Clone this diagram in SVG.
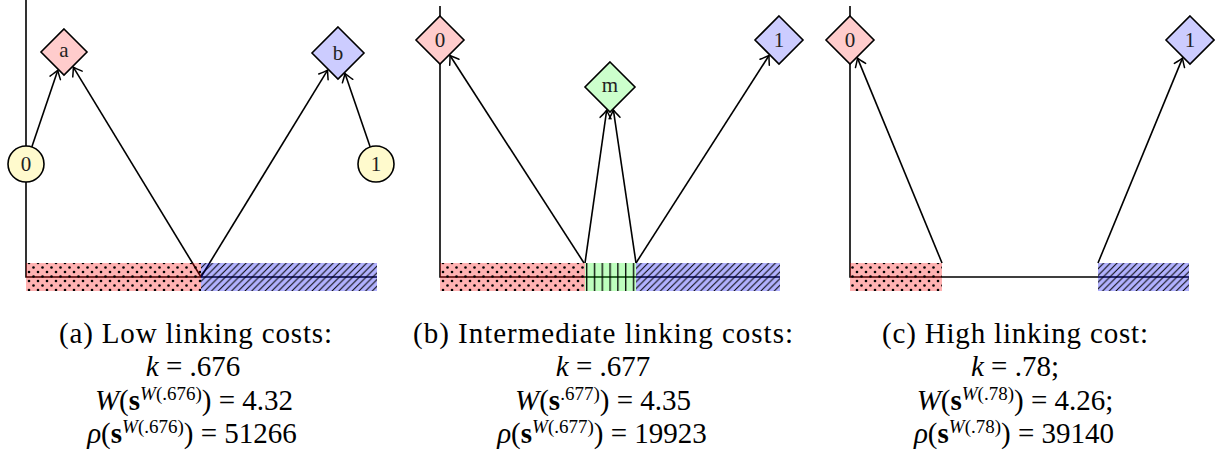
<svg xmlns="http://www.w3.org/2000/svg" width="1215" height="459" viewBox="0 0 1215 459">
<style>
.ln{stroke:#000;stroke-width:1.6;fill:none}
.ar{stroke:#000;stroke-width:1.6;fill:none;marker-end:url(#tip)}
.nd{stroke:#000;stroke-width:1.6}
.nt{font-family:"Liberation Serif","Times New Roman",serif;font-size:21px;fill:#222;text-anchor:middle}
.cap{font-family:"Liberation Serif","Times New Roman",serif;font-size:29px;fill:#000;text-anchor:middle}
.it{font-style:italic}
.bf{font-weight:bold}
.sup{font-size:19px}
.red{fill:#ff0000;fill-opacity:0.3}
.blue{fill:#0000ff;fill-opacity:0.3}
.green{fill:#00ff00;fill-opacity:0.25}
</style>
<defs>
<marker id="tip" markerUnits="userSpaceOnUse" viewBox="-10 -7 12 14" refX="0" refY="0" markerWidth="12" markerHeight="14" orient="auto">
<path d="M-8,-5.5 Q-2.5,-1.5 0,0 Q-2.5,1.5 -8,5.5" stroke="#000" stroke-width="1.5" fill="none" stroke-linecap="round"/>
</marker>
<pattern id="dots" patternUnits="userSpaceOnUse" width="9" height="9">
<circle cx="2" cy="2" r="1.3" fill="#000"/>
<circle cx="6.5" cy="6.5" r="1.3" fill="#000"/>
</pattern>
<pattern id="hatch" patternUnits="userSpaceOnUse" width="6.7" height="6.7">
<path d="M0,6.7 L6.7,0 M-1,1 L1,-1 M5.7,7.7 L7.7,5.7" stroke="#000" stroke-width="1"/>
</pattern>
<pattern id="vlines" patternUnits="userSpaceOnUse" width="7.8" height="10">
<path d="M1.7,0 V10" stroke="#000" stroke-width="1.3"/>
</pattern>
</defs>

<g id="connectors">
<path class="ln" d="M26,0 V146 M26,182 V277 H377"/>
<path class="ar" d="M31.8,147 L57.8,70.3"/>
<path class="ar" d="M201,277 L73.3,67.2"/>
<path class="ar" d="M201,277 L327.6,70.1"/>
<path class="ar" d="M370.2,147 L345,73.5"/>
<path class="ln" d="M440,6 V16 M440,64 V277 H780"/>
<path class="ar" d="M584,263 L450,55.5"/>
<path class="ar" d="M585,263 L606.7,110.2"/>
<path class="ar" d="M636,263 L613.4,110.1"/>
<path class="ar" d="M636,263 L769,55.5"/>
<path class="ln" d="M850,6 V16 M850,64 V277 H1189"/>
<path class="ar" d="M942,263 L857.5,58.1"/>
<path class="ar" d="M1098,263 L1182.5,58.1"/>
</g>

<g id="bands">
<rect class="red" x="26" y="263" width="175" height="28"/>
<rect fill="url(#dots)" x="26" y="263" width="175" height="28"/>
<rect class="blue" x="201" y="263" width="176" height="28"/>
<rect fill="url(#hatch)" x="201" y="263" width="176" height="28"/>

<rect class="red" x="440" y="263" width="145" height="28"/>
<rect fill="url(#dots)" x="440" y="263" width="145" height="28"/>
<rect class="green" x="585" y="263" width="51" height="28"/>
<rect fill="url(#vlines)" x="585" y="263" width="51" height="28"/>
<rect class="blue" x="636" y="263" width="144" height="28"/>
<rect fill="url(#hatch)" x="636" y="263" width="144" height="28"/>

<rect class="red" x="850" y="263" width="92" height="28"/>
<rect fill="url(#dots)" x="850" y="263" width="92" height="28"/>
<rect class="blue" x="1098" y="263" width="91" height="28"/>
<rect fill="url(#hatch)" x="1098" y="263" width="91" height="28"/>
</g>

<g id="a-circle0"><circle class="nd" cx="26" cy="164" r="18" fill="#fffacd"/><text class="nt" x="26" y="171">0</text></g>
<g id="a-circle1"><circle class="nd" cx="376" cy="164" r="18" fill="#fffacd"/><text class="nt" x="376" y="171">1</text></g>
<g id="a-diamond-a"><polygon class="nd" points="64,29 87,52 64,75 41,52" fill="#ffcccc"/><text class="nt" x="64" y="57">a</text></g>
<g id="a-diamond-b"><polygon class="nd" points="338,27 364,53 338,79 312,53" fill="#ccccff"/><text class="nt" x="338" y="60">b</text></g>

<g id="b-diamond0"><polygon class="nd" points="440,16 464,40 440,64 416,40" fill="#ffcccc"/><text class="nt" x="440" y="47">0</text></g>
<g id="b-diamond-m"><polygon class="nd" points="610,62 635,87 610,112 585,87" fill="#ccffcc"/><text class="nt" x="610" y="92">m</text></g>
<g id="b-diamond1"><polygon class="nd" points="779,16 803,40 779,64 755,40" fill="#ccccff"/><text class="nt" x="779" y="47">1</text></g>

<g id="c-diamond0"><polygon class="nd" points="850,16 874,40 850,64 826,40" fill="#ffcccc"/><text class="nt" x="850" y="47">0</text></g>
<g id="c-diamond1"><polygon class="nd" points="1190,16 1214,40 1190,64 1166,40" fill="#ccccff"/><text class="nt" x="1190" y="47">1</text></g>

<g id="caption-a">
<text class="cap" x="195.5" y="343" textLength="273" lengthAdjust="spacing">(a) Low linking costs:</text>
<text class="cap" x="193" y="376"><tspan class="it">k</tspan> = .676</text>
<text class="cap" x="194" y="410"><tspan class="it">W</tspan>(<tspan class="bf">s</tspan><tspan class="sup" dy="-10"><tspan class="it">W</tspan>(.676)</tspan><tspan dy="10">) = 4.32</tspan></text>
<text class="cap" x="192" y="443"><tspan class="it">ρ</tspan>(<tspan class="bf">s</tspan><tspan class="sup" dy="-10"><tspan class="it">W</tspan>(.676)</tspan><tspan dy="10">) = 51266</tspan></text>
</g>
<g id="caption-b">
<text class="cap" x="603" y="343" textLength="380" lengthAdjust="spacing">(b) Intermediate linking costs:</text>
<text class="cap" x="603" y="376"><tspan class="it">k</tspan> = .677</text>
<text class="cap" x="603" y="410"><tspan class="it">W</tspan>(<tspan class="bf">s</tspan><tspan class="sup" dy="-10">.677)</tspan><tspan dy="10">) = 4.35</tspan></text>
<text class="cap" x="602" y="443"><tspan class="it">ρ</tspan>(<tspan class="bf">s</tspan><tspan class="sup" dy="-10"><tspan class="it">W</tspan>(.677)</tspan><tspan dy="10">) = 19923</tspan></text>
</g>
<g id="caption-c">
<text class="cap" x="1015" y="343" textLength="266" lengthAdjust="spacing">(c) High linking cost:</text>
<text class="cap" x="1015" y="376"><tspan class="it">k</tspan> = .78;</text>
<text class="cap" x="1015" y="410"><tspan class="it">W</tspan>(<tspan class="bf">s</tspan><tspan class="sup" dy="-10"><tspan class="it">W</tspan>(.78)</tspan><tspan dy="10">) = 4.26;</tspan></text>
<text class="cap" x="1014" y="443"><tspan class="it">ρ</tspan>(<tspan class="bf">s</tspan><tspan class="sup" dy="-10"><tspan class="it">W</tspan>(.78)</tspan><tspan dy="10">) = 39140</tspan></text>
</g>
</svg>
